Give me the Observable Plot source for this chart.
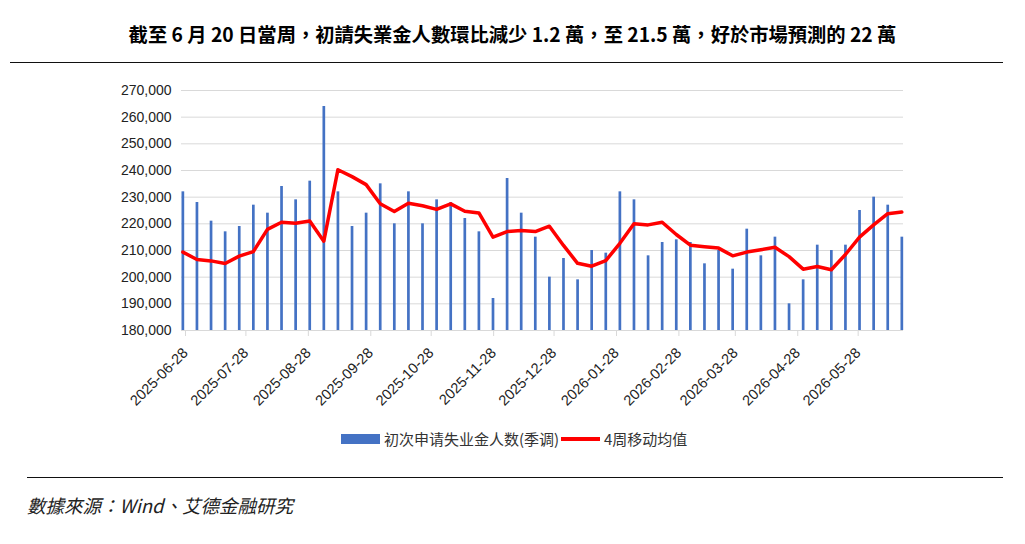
<!DOCTYPE html>
<html>
<head>
<meta charset="utf-8">
<script src="https://cdn.jsdelivr.net/npm/d3@7"></script>
<script src="https://cdn.jsdelivr.net/npm/@observablehq/plot@0.6"></script>
<style>
  body { margin: 0; background: #fff; }
  #page { position: relative; width: 1025px; height: 544px; overflow: hidden; background: #fff;
          font-family: "Liberation Sans", Arial, "Noto Sans CJK SC", sans-serif; }
  #title { position: absolute; left: 0; top: 21px; width: 1025px; text-align: center;
           font-family: "Noto Sans CJK TC", sans-serif; font-size: 19.3px; font-weight: bold;
           line-height: 26px; color: #000; white-space: nowrap; }
  .hr { position: absolute; height: 0; border-top: 1.5px solid #111; }
  #chart { position: absolute; left: 0; top: 70px; }
  #legend { position: absolute; top: 429px; left: 0; height: 20px; font-family: "Noto Sans CJK SC", sans-serif;
            font-size: 15px; line-height: 20px; color: #333; white-space: nowrap; }
  #legend span { position: absolute; top: 0; }
  #legend i { position: absolute; display: block; }
  #source { position: absolute; left: 27px; top: 493px; font-family: "Noto Sans CJK TC", sans-serif;
            font-size: 18.5px; line-height: 24px; font-style: italic; color: #222; white-space: nowrap; }
</style>
</head>
<body>
<div id="page">
  <div id="title"></div>
  <div class="hr" style="left:10px; width:993px; top:62px;"></div>
  <div id="chart"></div>
  <div id="legend"></div>
  <div class="hr" style="left:27px; width:976px; top:477px;"></div>
  <div id="source"></div>
</div>
<script>
// Weekly initial jobless claims (seasonally adjusted) and 4-week moving average
const weeks = [
  "2025-06-28","2025-07-05","2025-07-12","2025-07-19","2025-07-26","2025-08-02","2025-08-09","2025-08-16",
  "2025-08-23","2025-08-30","2025-09-06","2025-09-13","2025-09-20","2025-09-27","2025-10-04","2025-10-11",
  "2025-10-18","2025-10-25","2025-11-01","2025-11-08","2025-11-15","2025-11-22","2025-11-29","2025-12-06",
  "2025-12-13","2025-12-20","2025-12-27","2026-01-03","2026-01-10","2026-01-17","2026-01-24","2026-01-31",
  "2026-02-07","2026-02-14","2026-02-21","2026-02-28","2026-03-07","2026-03-14","2026-03-21","2026-03-28",
  "2026-04-04","2026-04-11","2026-04-18","2026-04-25","2026-05-02","2026-05-09","2026-05-16","2026-05-23",
  "2026-05-30","2026-06-06","2026-06-13","2026-06-20"
];
const claims = [
  232000, 228000, 221000, 217000, 219000, 227000, 224000, 234000, 229000, 236000,
  264000, 232000, 219000, 224000, 235000, 220000, 232000, 220000, 229000, 228000,
  222000, 217000, 192000, 237000, 224000, 215000, 200000, 207000, 199000, 210000,
  209000, 232000, 229000, 208000, 213000, 214000, 213000, 205000, 210000, 203000,
  218000, 208000, 215000, 190000, 199000, 212000, 210000, 212000, 225000, 230000,
  227000, 215000
];
const movingAvg = [
  209400, 206600, 206100, 205100, 207900, 209600, 217900, 220600, 220200, 221100,
  213500, 240300, 237700, 234700, 227500, 224600, 227700, 226800, 225400, 227500,
  224700, 224100, 215000, 217100, 217500, 217100, 219100, 211900, 205200, 204100,
  206200, 212700, 220000, 219600, 220600, 216000, 212000, 211400, 210900, 208000,
  209400, 210300, 211200, 207700, 203000, 204000, 202800, 208500, 215000, 219600,
  223800, 224400
];
const xTickDates = [
  "2025-06-28","2025-07-28","2025-08-28","2025-09-28","2025-10-28","2025-11-28",
  "2025-12-28","2026-01-28","2026-02-28","2026-03-28","2026-04-28","2026-05-28"
];
const yTicks = [180000, 190000, 200000, 210000, 220000, 230000, 240000, 250000, 260000, 270000];
const seriesNames = ["初次申请失业金人数(季调)", "4周移动均值"];
const titleText = "截至 6 月 20 日當周，初請失業金人數環比減少 1.2 萬，至 21.5 萬，好於市場預測的 22 萬";
const sourceText = "數據來源：Wind、艾德金融研究";

const barColor = "#4472C4";
const lineColor = "#FF0000";

const rows = weeks.map((w, i) => ({date: new Date(w + "T00:00:00Z"), claims: claims[i], ma: movingAvg[i]}));
const tickDates = xTickDates.map(d => new Date(d + "T00:00:00Z"));

document.getElementById("title").textContent = titleText;
document.getElementById("source").textContent = sourceText;

const chart = Plot.plot({
  width: 1025,
  height: 350,
  marginLeft: 181,
  marginRight: 122,
  marginTop: 20,
  marginBottom: 90,
  x: {type: "utc", domain: [new Date("2025-06-28T00:00:00Z"), new Date("2026-06-21T12:00:00Z")], label: null},
  y: {domain: [180000, 270000], label: null},
  style: {fontFamily: "'Liberation Sans', Arial, sans-serif", fontSize: "14px", color: "#222", background: "transparent", overflow: "visible"},
  marks: [
    Plot.gridY(yTicks, {stroke: "#d9d9d9", strokeOpacity: 1}),
    Plot.ruleX(rows, {x: "date", y1: yTicks[0], y2: "claims", stroke: barColor, strokeWidth: 2.7, dx: 1.35}),
    Plot.line(rows, {x: "date", y: "ma", stroke: lineColor, strokeWidth: 3.5, dx: 1.35, strokeLinejoin: "round", strokeLinecap: "round"}),
    Plot.ruleY([yTicks[0]], {stroke: "#d9d9d9"}),
    Plot.axisY(yTicks, {tickSize: 0, tickPadding: 10, tickFormat: d3.format(","), fontSize: 14, fill: "#222"}),
    Plot.axisX(tickDates, {tickSize: 6, stroke: "#d9d9d9", strokeOpacity: 1, tickRotate: -45, tickPadding: 14, dx: 4,
      tickFormat: d3.utcFormat("%Y-%m-%d"), fontSize: 14.6, fill: "#222"})
  ]
});
document.getElementById("chart").appendChild(chart);

// Legend below the chart
const legend = document.getElementById("legend");
legend.innerHTML =
  `<i style="left:341px; top:5px; width:39px; height:10px; background:${barColor}"></i>` +
  `<span style="left:384px">${seriesNames[0]}</span>` +
  `<i style="left:561px; top:8px; width:39px; height:3.5px; background:${lineColor}"></i>` +
  `<span style="left:604px">${seriesNames[1]}</span>`;
</script>
</body>
</html>
